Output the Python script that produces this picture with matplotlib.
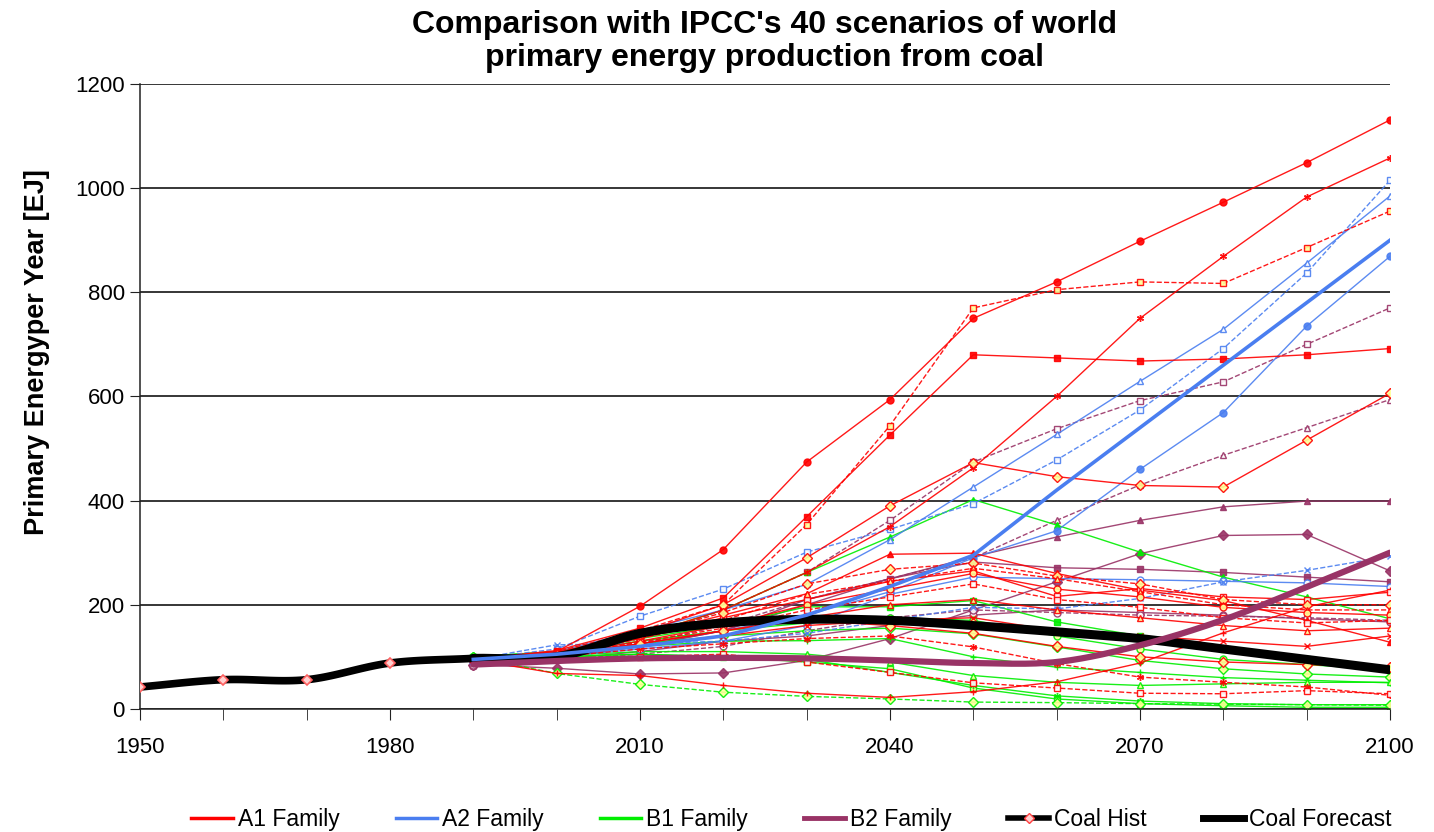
import matplotlib
matplotlib.use("Agg")
import matplotlib.pyplot as plt
from matplotlib.lines import Line2D
import numpy as np

plt.rcParams['font.family'] = ['Liberation Sans', 'DejaVu Sans']

# years of the scenario points
years = [1990, 2000, 2010, 2020, 2030, 2040, 2050, 2060, 2070, 2080, 2090, 2100]

# historical coal production (EJ)
hist_years = [1950, 1960, 1970, 1980, 1990]
hist_values = [42, 56, 56, 88, 97]

# coal forecast (EJ)
forecast_values = [97, 100, 145, 165, 172, 170, 160, 148, 135, 115, 95, 75]

# A1 family scenarios
a1_values = [
    [95, 110, 197, 306, 474, 594, 750, 820, 898, 973, 1049, 1131],
    [95, 108, 140, 190, 262, 350, 463, 600, 750, 869, 983, 1058],
    [95, 110, 150, 200, 354, 544, 770, 805, 820, 817, 886, 956],
    [95, 112, 155, 213, 369, 526, 680, 674, 668, 672, 680, 692],
    [95, 108, 145, 200, 290, 390, 473, 446, 429, 426, 516, 606],
    [95, 108, 140, 180, 221, 297, 299, 260, 228, 208, 170, 128],
    [95, 68, 64, 45, 30, 22, 33, 52, 88, 146, 196, 228],
    [95, 105, 135, 175, 210, 245, 265, 216, 231, 215, 210, 224],
    [95, 105, 140, 185, 240, 268, 280, 255, 240, 210, 200, 200],
    [95, 105, 135, 170, 220, 245, 270, 250, 225, 200, 190, 190],
    [95, 103, 130, 160, 200, 230, 260, 230, 215, 195, 185, 180],
    [95, 102, 128, 155, 190, 215, 240, 210, 195, 175, 165, 170],
    [95, 102, 125, 150, 175, 200, 210, 190, 175, 160, 150, 155],
    [95, 100, 120, 140, 160, 170, 175, 150, 140, 130, 120, 140],
    [95, 100, 115, 125, 135, 140, 119, 87, 61, 51, 42, 26],
    [95, 95, 100, 105, 90, 70, 50, 40, 30, 29, 35, 29],
    [95, 103, 125, 150, 170, 160, 145, 120, 100, 90, 85, 80],
]
a1_styles = [('o', '-', 'r'), ((6, 2, 0), '-', 'r'), ('s', '--', 'y'), ('s', '-', 'r'),
             ('D', '-', 'y'), ('^', '-', 'r'), ('+', '-', 'r'), ('s', '-', 'w'),
             ('D', '--', 'y'), ('^', '--', 'y'), ('o', '-', 'y'), ('s', '--', 'w'),
             ('^', '-', 'y'), ('x', '-', 'r'), ((6, 2, 0), '--', 'r'), ('s', '--', 'w'),
             ('D', '-', 'y')]

# A2 family scenarios (a2_marker = marker scenario, drawn thick)
a2_values = [
    [95, 115, 178, 230, 301, 345, 394, 478, 574, 692, 837, 1015],
    [95, 110, 150, 190, 239, 325, 426, 527, 629, 729, 856, 985],
    [95, 105, 125, 150, 180, 225, 290, 342, 460, 569, 735, 869],
    [90, 100, 115, 130, 160, 220, 253, 250, 248, 245, 242, 235],
    [95, 123, 125, 130, 145, 170, 195, 192, 212, 244, 266, 293],
]
a2_styles = [('s', '--', 'w'), ('^', '-', 'w'), ('o', '-', 'b'), ('o', '-', 'w'), ('x', '--', 'b')]
a2_marker = [95, 105, 120, 140, 180, 235, 295, 420, 540, 660, 780, 900]

# B1 family scenarios
b1_values = [
    [100, 110, 140, 190, 262, 330, 402, 353, 301, 253, 215, 173],
    [100, 110, 135, 160, 196, 196, 208, 167, 140, 115, 95, 77],
    [100, 108, 130, 150, 165, 175, 170, 140, 115, 95, 85, 75],
    [100, 105, 125, 140, 150, 155, 144, 119, 93, 77, 67, 61],
    [100, 105, 120, 130, 131, 135, 100, 80, 70, 60, 55, 50],
    [100, 102, 110, 110, 105, 90, 64, 51, 45, 48, 51, 51],
    [100, 100, 105, 100, 90, 77, 40, 19, 10, 6, 3, 3],
    [100, 100, 105, 100, 95, 70, 45, 25, 15, 10, 8, 8],
    [100, 68, 47, 32, 24, 19, 13, 12, 10, 9, 8, 7],
]
b1_styles = [('^', '-', 'g'), ('s', '-', 'g'), ('o', '-', 'y'), ('D', '-', 'y'), ('+', '-', 'g'),
             ('^', '-', 'y'), ('s', '-', 'y'), ((6, 2, 0), '-', 'g'), ('D', '--', 'y')]

# B2 family scenarios (b2_marker = marker scenario, drawn thick)
b2_values = [
    [85, 100, 135, 190, 262, 362, 474, 538, 592, 628, 700, 770],
    [85, 98, 125, 160, 210, 250, 290, 362, 430, 487, 540, 594],
    [85, 98, 120, 150, 200, 250, 292, 330, 362, 388, 399, 399],
    [85, 78, 67, 69, 93, 135, 190, 244, 298, 333, 335, 265],
    [85, 100, 120, 150, 210, 250, 282, 271, 268, 262, 253, 244],
    [82, 95, 110, 130, 140, 160, 180, 190, 185, 180, 173, 167],
    [85, 95, 105, 120, 150, 175, 190, 185, 180, 178, 175, 170],
]
b2_styles = [('s', '--', 'w'), ('^', '--', 'w'), ('^', '-', 'p'), ('D', '-', 'p'),
             ('s', '-', 'p'), ('o', '-', 'w'), ('o', '--', 'w')]
b2_marker = [85, 92, 97, 98, 97, 93, 88, 90, 122, 171, 234, 300]

RED = '#ff0000'
BLUE = '#4a7ef0'
GREEN = '#00ee00'
PURPLE = '#993366'
faces = {'w': 'white', 'y': '#ffff99'}


def smooth(x, y, n=24):
    # Catmull-Rom curve through the points, like Excel's smoothed line
    x = np.asarray(x, float)
    y = np.asarray(y, float)
    px = np.concatenate([[2 * x[0] - x[1]], x, [2 * x[-1] - x[-2]]])
    py = np.concatenate([[2 * y[0] - y[1]], y, [2 * y[-1] - y[-2]]])
    t = np.linspace(0, 1, n, endpoint=False)
    xs, ys = [], []
    for i in range(1, len(px) - 2):
        for p, out in ((px, xs), (py, ys)):
            p0, p1, p2, p3 = p[i - 1], p[i], p[i + 1], p[i + 2]
            out.extend(0.5 * (2 * p1 + (-p0 + p2) * t + (2 * p0 - 5 * p1 + 4 * p2 - p3) * t ** 2
                              + (-p0 + 3 * p1 - 3 * p2 + p3) * t ** 3))
    xs.append(x[-1])
    ys.append(y[-1])
    return np.array(xs), np.array(ys)


def draw_family(ax, values, styles, color):
    for vals, (mk, ls, fc) in zip(values, styles):
        face = faces.get(fc, color)
        ax.plot(years, vals, color=color, lw=1.0, ls=ls, marker=mk, ms=5,
                mfc=face, mec=color, mew=1.0, alpha=0.9, zorder=2)


fig = plt.figure(figsize=(14.34, 8.32), dpi=100)
ax = fig.add_axes([0.0976, 0.148, 0.8717, 0.751])

draw_family(ax, b2_values, b2_styles, PURPLE)
draw_family(ax, b1_values, b1_styles, GREEN)
draw_family(ax, a2_values, a2_styles, BLUE)
draw_family(ax, a1_values, a1_styles, RED)

# coal history and forecast
hx, hy = smooth(hist_years, hist_values)
ax.plot(hx, hy, color='black', lw=5.5, solid_capstyle='round', zorder=4)
ax.plot(hist_years[:-1], hist_values[:-1], ls='none', marker='D', ms=5,
        mfc='#ffd0d0', mec='#ff6060', mew=1.2, zorder=5)
fx, fy = smooth(years, forecast_values)
ax.plot(fx, fy, color='black', lw=6.5, solid_capstyle='round', zorder=4)

# marker scenarios
ax.plot(years, a2_marker, color=BLUE, lw=2.6, zorder=5)
px_, py_ = smooth(years, b2_marker)
ax.plot(px_, py_, color=PURPLE, lw=4.5, solid_capstyle='round', zorder=5)

ax.set_xlim(1950, 2100)
ax.set_ylim(0, 1200)
ax.set_yticks(range(0, 1201, 200))
ax.set_xticks(range(1950, 2101, 30))
ax.set_xticks(range(1950, 2101, 10), minor=True)
ax.yaxis.grid(True, color='black', lw=1.1)
ax.set_axisbelow(True)
for s in ('top', 'right'):
    ax.spines[s].set_visible(False)
for s in ('left', 'bottom'):
    ax.spines[s].set_color('#222222')
    ax.spines[s].set_linewidth(1.1)
ax.tick_params(axis='both', which='both', direction='out', labelsize=16, color='#222222')
ax.tick_params(axis='x', which='both', length=8, pad=12)
ax.tick_params(axis='y', length=7, pad=4)

ax.set_ylabel('Primary Energyper Year [EJ]', fontsize=19.5, fontweight='bold')
ax.yaxis.set_label_coords(-0.072, 0.571)
ax.set_title("Comparison with IPCC's 40 scenarios of world\nprimary energy production from coal",
             fontsize=23, fontweight='bold', pad=13, linespacing=1.12)

handles = [
    Line2D([], [], color=RED, lw=2.5),
    Line2D([], [], color=BLUE, lw=2.5),
    Line2D([], [], color=GREEN, lw=2.5),
    Line2D([], [], color=PURPLE, lw=3.5),
    Line2D([], [], color='black', lw=4, marker='D', ms=5, mfc='#ffd0d0', mec='#ff4040'),
    Line2D([], [], color='black', lw=5),
]
labels = ['A1 Family', 'A2 Family', 'B1 Family', 'B2 Family', 'Coal Hist', 'Coal Forecast']
fig.legend(handles, labels, loc='center', bbox_to_anchor=(0.552, 0.0145), ncol=6,
           frameon=False, fontsize=16.5, handlelength=1.8, handletextpad=0.22,
           columnspacing=2.45, borderpad=0.0)

fig.savefig('out.png', dpi=100)
